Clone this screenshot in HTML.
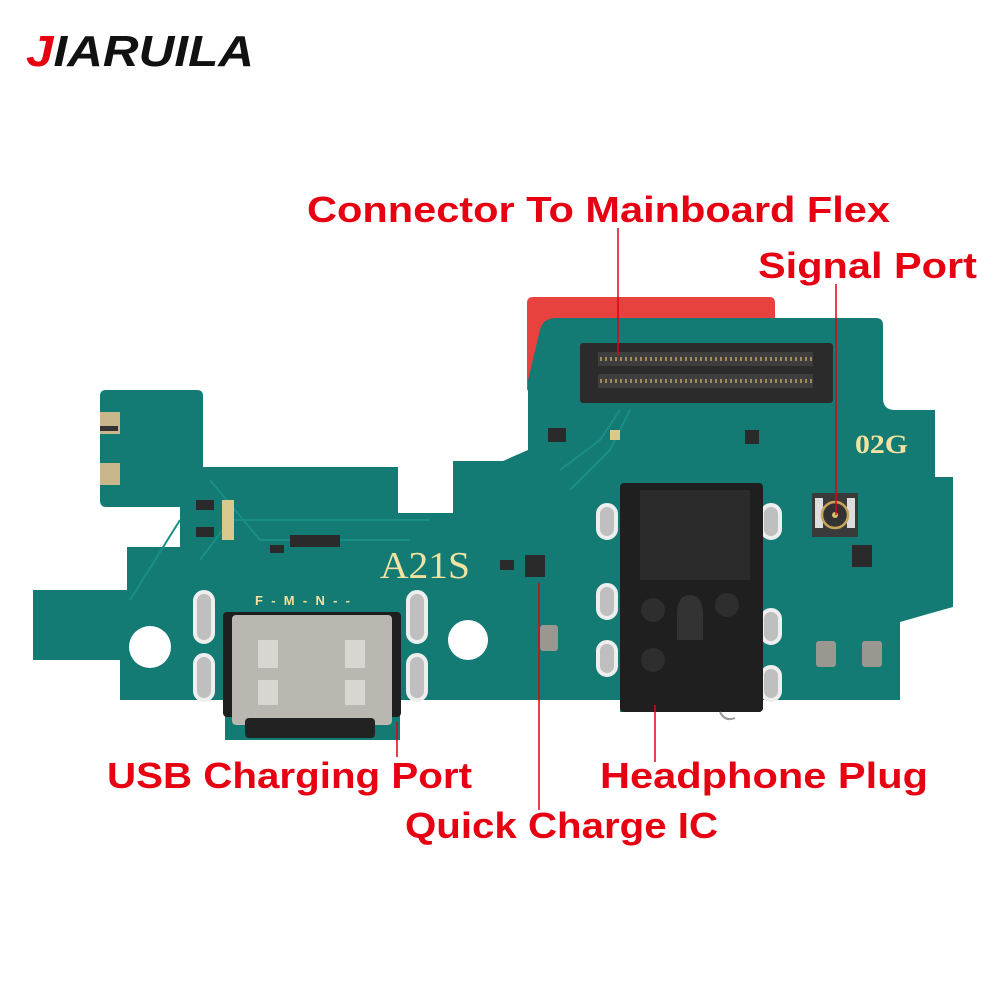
<!DOCTYPE html>
<html><head><meta charset="utf-8"><style>
html,body{margin:0;padding:0;background:#fff;}
svg{display:block;}
.lbl{font-family:"Liberation Sans",sans-serif;font-weight:bold;fill:#e60012;}
</style></head><body>
<svg width="1000" height="1000" viewBox="0 0 1000 1000" xmlns="http://www.w3.org/2000/svg">
<rect width="1000" height="1000" fill="#fff"/>
<text x="26" y="66" font-family="Liberation Sans,sans-serif" font-weight="bold" font-style="italic" font-size="44" textLength="228" lengthAdjust="spacingAndGlyphs"><tspan fill="#e60012">J</tspan><tspan fill="#111">IARUILA</tspan></text>

<path d="M530 297 L770 297 Q775 297 775 303 L775 390 L527 390 L527 303 Q527 297 533 297Z" fill="#e8423e"/>

<path d="M106 390 L197 390 Q203 390 203 396 L203 467 L398 467 L398 513 L453 513 L453 461 L503 461 L528 450 L528 380 L540 330 Q543 318 556 318 L876 318 Q883 318 883 325 L883 398 Q883 410 895 410 L935 410 L935 477 L953 477 L953 607 L935 612 L900 622 L900 700 L760 700 L760 712 L620 712 L620 700 L400 700 L400 740 L225 740 L225 700 L120 700 L120 660 L33 660 L33 590 L127 590 L127 547 L180 547 L180 507 L106 507 Q100 507 100 500 L100 396 Q100 390 106 390Z" fill="#137a74"/>
<path d="M130 600 L180 520 M200 560 L230 520 L430 520 M210 480 L260 540 L410 540 M560 470 L600 440 L620 410 M570 490 L610 450 L630 410" stroke="#1a8f86" stroke-width="2" fill="none"/>

<rect x="100" y="412" width="20" height="22" fill="#c9b68a"/>
<rect x="100" y="463" width="20" height="22" fill="#c9b68a"/>
<rect x="100" y="426" width="18" height="5" fill="#333"/>

<g fill="#2a2a2a">
<rect x="196" y="500" width="18" height="10"/><rect x="196" y="527" width="18" height="10"/>
<rect x="270" y="545" width="14" height="8"/><rect x="290" y="535" width="50" height="12"/>
<rect x="500" y="560" width="14" height="10"/><rect x="525" y="555" width="20" height="22"/>
<rect x="852" y="545" width="20" height="22"/><rect x="548" y="428" width="18" height="14"/>
<rect x="745" y="430" width="14" height="14"/>
</g>
<g fill="#d9c98c">
<rect x="222" y="500" width="12" height="40"/><rect x="610" y="430" width="10" height="10"/>
</g>

<rect x="580" y="343" width="253" height="60" rx="3" fill="#2b2b2b"/>
<rect x="598" y="352" width="215" height="14" fill="#3e3e3e"/>
<rect x="598" y="374" width="215" height="14" fill="#3e3e3e"/>
<line x1="600" y1="359" x2="812" y2="359" stroke="#a08a5a" stroke-width="4" stroke-dasharray="2 3"/>
<line x1="600" y1="381" x2="812" y2="381" stroke="#a08a5a" stroke-width="4" stroke-dasharray="2 3"/>

<text x="380" y="578" font-family="Liberation Serif,serif" font-size="38" fill="#f0e2a0" textLength="90" lengthAdjust="spacingAndGlyphs">A21S</text>
<text x="855" y="453" font-family="Liberation Serif,serif" font-weight="bold" font-size="26" fill="#f0e2a0" textLength="53" lengthAdjust="spacingAndGlyphs">02G</text>
<text x="255" y="605" font-family="Liberation Sans,sans-serif" font-weight="bold" font-size="13" fill="#f0e2a0" textLength="95">F - M - N - -</text>

<circle cx="150" cy="647" r="21" fill="#fff"/>
<circle cx="468" cy="640" r="20" fill="#fff"/>

<g fill="#bfbfbf" stroke="#eee" stroke-width="4">
<rect x="195" y="592" width="18" height="50" rx="9"/><rect x="195" y="655" width="18" height="45" rx="9"/>
<rect x="408" y="592" width="18" height="50" rx="9"/><rect x="408" y="655" width="18" height="45" rx="9"/>
<rect x="598" y="505" width="18" height="33" rx="9"/><rect x="598" y="585" width="18" height="33" rx="9"/><rect x="598" y="642" width="18" height="33" rx="9"/>
<rect x="762" y="505" width="18" height="33" rx="9"/><rect x="762" y="610" width="18" height="33" rx="9"/><rect x="762" y="667" width="18" height="33" rx="9"/>
</g>

<rect x="223" y="612" width="178" height="105" rx="4" fill="#1e1e1e"/>
<rect x="232" y="615" width="160" height="110" rx="4" fill="#b9b7b0"/>
<rect x="245" y="718" width="130" height="20" rx="4" fill="#222"/>
<rect x="258" y="640" width="20" height="28" fill="#d8d6d0"/><rect x="345" y="640" width="20" height="28" fill="#d8d6d0"/>
<rect x="258" y="680" width="20" height="25" fill="#d8d6d0"/><rect x="345" y="680" width="20" height="25" fill="#d8d6d0"/>

<rect x="620" y="483" width="143" height="229" rx="4" fill="#1f1f1f"/>
<rect x="640" y="490" width="110" height="90" fill="#2b2b2b"/>
<path d="M677 615 Q677 595 690 595 Q703 595 703 615 L703 640 L677 640Z" fill="#333"/>
<circle cx="653" cy="610" r="12" fill="#2e2e2e"/><circle cx="727" cy="605" r="12" fill="#2e2e2e"/>
<circle cx="653" cy="660" r="12" fill="#2e2e2e"/>
<path d="M720 712 Q725 722 735 718" stroke="#999" stroke-width="2" fill="none"/>

<rect x="812" y="493" width="46" height="44" fill="#3a3a3a"/>
<rect x="815" y="498" width="8" height="30" fill="#ddd"/><rect x="847" y="498" width="8" height="30" fill="#ddd"/>
<circle cx="835" cy="515" r="13" fill="#333" stroke="#c8a35a" stroke-width="2.5"/>
<circle cx="835" cy="515" r="3" fill="#d8c070"/>

<g fill="#9a9690">
<rect x="816" y="641" width="20" height="26" rx="3"/><rect x="862" y="641" width="20" height="26" rx="3"/>
<rect x="540" y="625" width="18" height="26" rx="3"/>
</g>

<g stroke="#e60012" stroke-width="1.5">
<line x1="618" y1="228" x2="618" y2="355"/>
<line x1="836" y1="284" x2="836" y2="515"/>
<line x1="397" y1="722" x2="397" y2="757"/>
<line x1="539" y1="583" x2="539" y2="810"/>
<line x1="655" y1="705" x2="655" y2="762"/>
</g>

<text class="lbl" x="307" y="222" font-size="36" textLength="583" lengthAdjust="spacingAndGlyphs">Connector To Mainboard Flex</text>
<text class="lbl" x="758" y="278" font-size="36" textLength="219" lengthAdjust="spacingAndGlyphs">Signal Port</text>
<text class="lbl" x="107" y="788" font-size="36" textLength="365" lengthAdjust="spacingAndGlyphs">USB Charging Port</text>
<text class="lbl" x="600" y="788" font-size="36" textLength="328" lengthAdjust="spacingAndGlyphs">Headphone Plug</text>
<text class="lbl" x="405" y="838" font-size="36" textLength="313" lengthAdjust="spacingAndGlyphs">Quick Charge IC</text>
</svg>
</body></html>
